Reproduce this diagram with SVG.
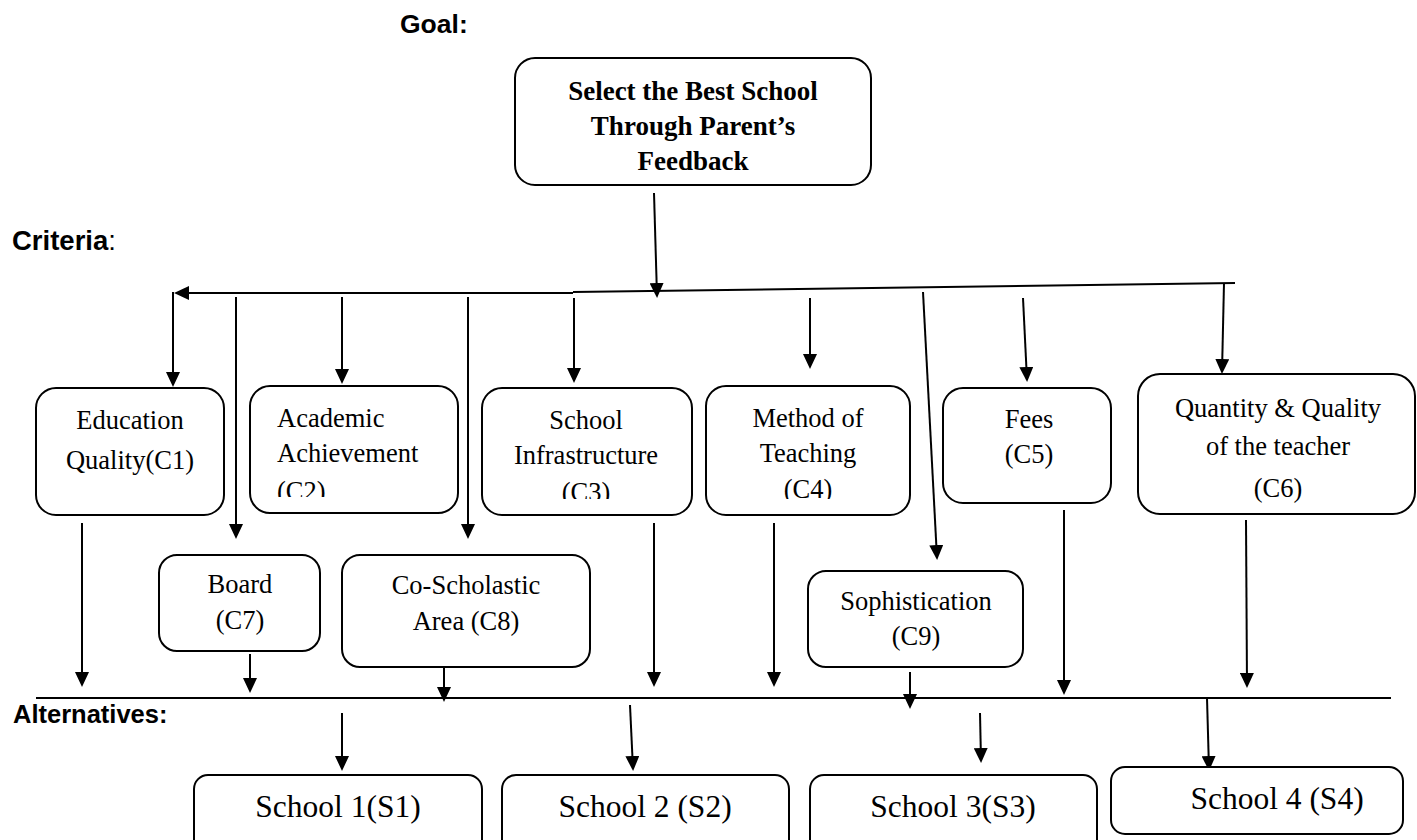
<svg xmlns="http://www.w3.org/2000/svg" width="1417" height="840" viewBox="0 0 1417 840">
<style>
.box{fill:#fff;stroke:#000;stroke-width:2}
.t{font-family:"Liberation Serif","Times New Roman",serif;font-size:26.5px;fill:#000;text-anchor:middle}
.tb{font-family:"Liberation Serif","Times New Roman",serif;font-size:27px;font-weight:bold;fill:#000;text-anchor:middle}
.s{font-family:"Liberation Serif","Times New Roman",serif;font-size:31.5px;fill:#000;text-anchor:middle}
.h{font-family:"Liberation Sans",Arial,sans-serif;font-weight:bold;fill:#000}
.c line{stroke:#000;stroke-width:2;marker-end:url(#ah)}
.c line.n{marker-end:none}
</style>
<defs>
<marker id="ah" viewBox="0 0 15 14" refX="13" refY="7" markerWidth="15" markerHeight="14" markerUnits="userSpaceOnUse" orient="auto"><path d="M0,0 L15,7 L0,14 z" fill="#000"/></marker>
<clipPath id="clipC2"><rect x="250" y="386" width="208" height="111"/></clipPath>
<clipPath id="clipC3"><rect x="482" y="388" width="210" height="111"/></clipPath>
<clipPath id="clipC4"><rect x="706" y="386" width="204" height="113"/></clipPath>
</defs>
<rect width="1417" height="840" fill="#fff"/>

<g id="labels">
<text class="h" x="400" y="33" font-size="26.5">Goal:</text>
<text class="h" x="12" y="250" font-size="27.5">Criteria<tspan font-weight="normal">:</tspan></text>
<text class="h" x="13" y="723" font-size="25.5">Alternatives:</text>
</g>

<g id="connectors" class="c">
<line x1="654" y1="193" x2="657" y2="296"/>
<line x1="573" y1="293" x2="176" y2="293"/>
<line class="n" x1="573" y1="292" x2="1235" y2="283"/>
<line x1="173" y1="292" x2="173" y2="385"/>
<line x1="236" y1="297" x2="236" y2="537"/>
<line x1="342" y1="297" x2="342" y2="382"/>
<line x1="468" y1="297" x2="468" y2="537"/>
<line x1="574" y1="298" x2="574" y2="381"/>
<line x1="810" y1="298" x2="810" y2="367"/>
<line x1="923" y1="292" x2="937" y2="558"/>
<line x1="1023" y1="298" x2="1027" y2="380"/>
<line x1="1224" y1="283" x2="1222" y2="372"/>
<line x1="82" y1="523" x2="82" y2="685"/>
<line x1="250" y1="654" x2="250" y2="691"/>
<line x1="444" y1="663" x2="444" y2="700"/>
<line x1="654" y1="523" x2="654" y2="685"/>
<line x1="774" y1="523" x2="774" y2="685"/>
<line x1="910" y1="672" x2="910" y2="707"/>
<line x1="1064" y1="510" x2="1064" y2="693"/>
<line x1="1246" y1="520" x2="1247" y2="686"/>
<line class="n" x1="36" y1="698" x2="1391" y2="698"/>
<line x1="342" y1="713" x2="342" y2="769"/>
<line x1="630" y1="705" x2="633" y2="769"/>
<line x1="980" y1="713" x2="981" y2="761"/>
<line x1="1207" y1="698" x2="1209" y2="769"/>
</g>

<g id="goal">
<rect class="box" x="515" y="58" width="356" height="127" rx="20"/>
<text class="tb" x="693" y="100">Select the Best School</text>
<text class="tb" x="693" y="135">Through Parent’s</text>
<text class="tb" x="693" y="170">Feedback</text>
</g>

<g id="c1">
<rect class="box" x="36" y="388" width="188" height="127" rx="20"/>
<text class="t" x="130" y="429">Education</text>
<text class="t" x="130" y="469">Quality(C1)</text>
</g>
<g id="c2">
<rect class="box" x="250" y="386" width="208" height="127" rx="20"/>
<g style="text-anchor:start">
<text class="t" x="277" y="427" style="text-anchor:start">Academic</text>
<text class="t" x="277" y="462" style="text-anchor:start">Achievement</text>
<text class="t" x="277" y="500" style="text-anchor:start" clip-path="url(#clipC2)">(C2)</text>
</g>
</g>
<g id="c3">
<rect class="box" x="482" y="388" width="210" height="127" rx="20"/>
<text class="t" x="586" y="429">School</text>
<text class="t" x="586" y="464">Infrastructure</text>
<text class="t" x="586" y="501" clip-path="url(#clipC3)">(C3)</text>
</g>
<g id="c4">
<rect class="box" x="706" y="386" width="204" height="129" rx="20"/>
<text class="t" x="808" y="427">Method of</text>
<text class="t" x="808" y="462">Teaching</text>
<text class="t" x="808" y="498" clip-path="url(#clipC4)">(C4)</text>
</g>
<g id="c5">
<rect class="box" x="943" y="388" width="168" height="115" rx="20"/>
<text class="t" x="1029" y="428">Fees</text>
<text class="t" x="1029" y="463">(C5)</text>
</g>
<g id="c6">
<rect class="box" x="1138" y="374" width="277" height="140" rx="22"/>
<text class="t" x="1278" y="417">Quantity &amp; Quality</text>
<text class="t" x="1278" y="455" font-size="31.5">of the teacher</text>
<text class="t" x="1278" y="497" font-size="31.5">(C6)</text>
</g>
<g id="c7">
<rect class="box" x="159" y="555" width="161" height="96" rx="18"/>
<text class="t" x="240" y="593">Board</text>
<text class="t" x="240" y="629">(C7)</text>
</g>
<g id="c8">
<rect class="box" x="342" y="555" width="248" height="112" rx="18"/>
<text class="t" x="466" y="594">Co-Scholastic</text>
<text class="t" x="466" y="630">Area (C8)</text>
</g>
<g id="c9">
<rect class="box" x="808" y="571" width="215" height="96" rx="18"/>
<text class="t" x="916" y="610">Sophistication</text>
<text class="t" x="916" y="645">(C9)</text>
</g>

<g id="s1">
<rect class="box" x="194" y="775" width="288" height="80" rx="14"/>
<text class="s" x="338" y="817">School 1(S1)</text>
</g>
<g id="s2">
<rect class="box" x="502" y="775" width="287" height="80" rx="14"/>
<text class="s" x="645" y="817">School 2 (S2)</text>
</g>
<g id="s3">
<rect class="box" x="810" y="775" width="287" height="80" rx="14"/>
<text class="s" x="953" y="817">School 3(S3)</text>
</g>
<g id="s4">
<rect class="box" x="1111" y="767" width="292" height="67" rx="14"/>
<text class="s" x="1277" y="809" font-size="32.5">School 4 (S4)</text>
</g>
</svg>
